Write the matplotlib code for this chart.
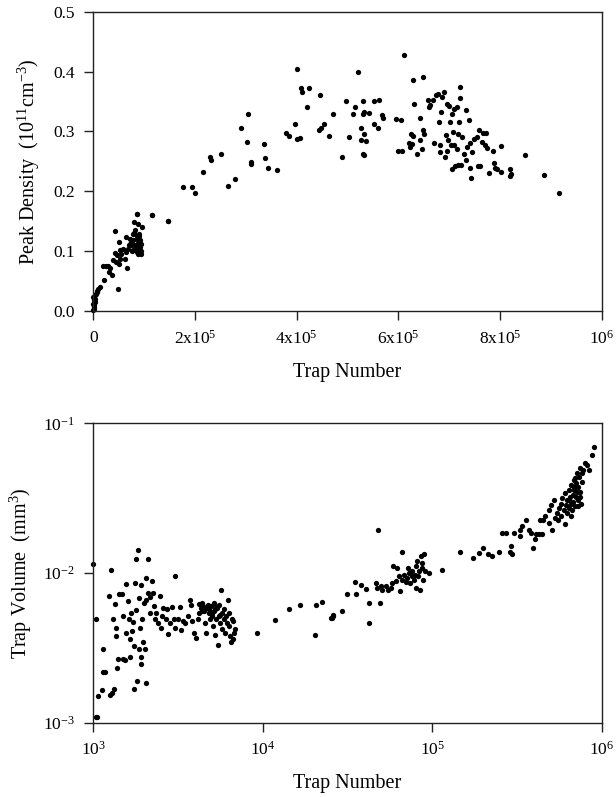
import matplotlib
matplotlib.use("Agg")
import matplotlib.pyplot as plt
import numpy as np

plt.rcParams['font.family'] = ['Liberation Serif', 'DejaVu Serif']
plt.rcParams['mathtext.fontset'] = 'custom'
plt.rcParams['mathtext.rm'] = 'Liberation Serif'
plt.rcParams['mathtext.it'] = 'Liberation Serif:italic'
plt.rcParams['mathtext.default'] = 'regular'

# ---------------- Top panel data: Peak density vs trap number ----------------
top_x = [
    1.47e5, 1.16e5, 0.86e5, 1.77e5, 1.95e5, 2.01e5, 2.15e5, 2.30e5, 2.31e5, 2.51e5,
    2.64e5, 2.78e5, 2.90e5, 3.02e5, 3.05e5, 3.11e5, 3.11e5, 3.36e5, 3.38e5, 3.44e5,
    3.62e5, 3.79e5, 3.85e5, 3.97e5, 4.01e5, 4.01e5, 4.07e5, 4.09e5, 4.11e5, 4.20e5,
    4.25e5, 4.46e5, 4.43e5, 4.47e5, 4.53e5, 4.63e5, 4.72e5, 4.89e5, 4.97e5, 5.03e5,
    5.10e5, 5.14e5, 5.21e5, 5.27e5, 5.30e5, 5.30e5, 5.27e5, 5.33e5, 5.33e5, 5.30e5,
    5.32e5, 5.36e5, 5.42e5, 5.52e5, 5.53e5, 5.61e5, 5.60e5, 5.67e5, 5.70e5, 5.96e5,
    6.05e5, 5.99e5, 6.08e5, 6.12e5, 6.20e5, 6.22e5, 6.25e5, 6.26e5, 6.28e5, 6.29e5,
    6.31e5, 6.36e5, 6.42e5, 6.43e5, 6.46e5, 6.48e5, 6.49e5, 6.51e5, 6.58e5, 6.60e5,
    6.62e5, 6.68e5, 6.71e5, 6.74e5, 6.78e5, 6.80e5, 6.81e5, 6.82e5, 6.83e5, 6.86e5,
    6.89e5, 6.91e5, 6.94e5, 6.95e5, 6.96e5, 6.98e5, 6.99e5, 7.02e5, 7.03e5, 7.05e5,
    7.05e5, 7.07e5, 7.09e5, 7.10e5, 7.12e5, 7.15e5, 7.16e5, 7.18e5, 7.19e5, 7.21e5,
    7.22e5, 7.18e5, 7.24e5, 7.26e5, 7.29e5, 7.33e5, 7.34e5, 7.36e5, 7.39e5, 7.40e5,
    7.41e5, 7.42e5, 7.44e5, 7.49e5, 7.54e5, 7.56e5, 7.59e5, 7.60e5, 7.64e5, 7.66e5,
    7.70e5, 7.73e5, 7.75e5, 7.78e5, 7.87e5, 7.89e5, 7.91e5, 7.95e5, 8.01e5, 8.01e5,
    8.20e5, 8.22e5, 8.20e5, 8.49e5, 8.87e5, 9.16e5,
    # dense cluster near the origin
    0.86e5, 1.15e5, 1.46e5, 0.42e5, 0.81e5, 0.88e5, 0.96e5, 0.51e5, 0.65e5, 0.72e5,
    0.78e5, 0.85e5, 0.90e5, 0.75e5, 0.81e5, 0.86e5, 0.91e5, 0.88e5, 0.68e5, 0.59e5,
    0.52e5, 0.42e5, 0.47e5, 0.52e5, 0.62e5, 0.44e5, 0.20e5, 0.25e5, 0.29e5, 0.33e5,
    0.36e5, 0.31e5, 0.67e5, 0.51e5, 0.49e5, 0.21e5, 0.13e5, 0.10e5, 0.065e5, 0.03e5,
    0.0, 0.013e5, 0.0, 0.013e5, 0.0, 0.03e5,
    0.78e5, 0.83e5, 0.86e5, 0.92e5, 0.93e5, 0.90e5, 0.72e5, 0.79e5, 0.94e5, 0.65e5,
    0.55e5, 0.39e5, 0.85e5, 0.93e5, 0.80e5, 0.84e5, 0.87e5, 0.89e5, 0.76e5, 0.70e5,
    0.02e5, 0.04e5, 0.05e5, 0.08e5, 0.01e5,
]
top_y = [
    0.151, 0.160, 0.162, 0.207, 0.207, 0.197, 0.233, 0.258, 0.252, 0.262,
    0.209, 0.220, 0.306, 0.283, 0.329, 0.249, 0.245, 0.279, 0.255, 0.239,
    0.235, 0.297, 0.293, 0.313, 0.404, 0.287, 0.289, 0.373, 0.366, 0.341,
    0.373, 0.361, 0.302, 0.306, 0.313, 0.292, 0.329, 0.257, 0.351, 0.291,
    0.329, 0.341, 0.399, 0.306, 0.351, 0.329, 0.285, 0.332, 0.296, 0.263,
    0.260, 0.284, 0.331, 0.313, 0.351, 0.352, 0.306, 0.327, 0.322, 0.321,
    0.319, 0.268, 0.268, 0.428, 0.281, 0.274, 0.295, 0.279, 0.292, 0.386,
    0.346, 0.263, 0.323, 0.285, 0.270, 0.391, 0.303, 0.296, 0.353, 0.341,
    0.344, 0.353, 0.280, 0.361, 0.363, 0.315, 0.278, 0.265, 0.333, 0.358,
    0.366, 0.257, 0.294, 0.268, 0.346, 0.285, 0.342, 0.315, 0.278, 0.329,
    0.238, 0.299, 0.337, 0.277, 0.242, 0.270, 0.340, 0.295, 0.316, 0.375,
    0.356, 0.244, 0.244, 0.290, 0.263, 0.252, 0.335, 0.274, 0.319, 0.280,
    0.239, 0.223, 0.265, 0.287, 0.290, 0.243, 0.303, 0.242, 0.282, 0.297,
    0.278, 0.297, 0.273, 0.231, 0.267, 0.247, 0.239, 0.237, 0.275, 0.232,
    0.225, 0.229, 0.238, 0.261, 0.228, 0.197,
    0.162, 0.160, 0.151, 0.134, 0.149, 0.146, 0.140, 0.115, 0.124, 0.121,
    0.118, 0.126, 0.129, 0.110, 0.110, 0.104, 0.107, 0.096, 0.104, 0.104,
    0.102, 0.097, 0.093, 0.087, 0.087, 0.082, 0.076, 0.076, 0.075, 0.071,
    0.060, 0.065, 0.072, 0.079, 0.037, 0.051, 0.040, 0.036, 0.032, 0.026,
    0.023, 0.018, 0.012, 0.007, 0.001, 0.015,
    0.129, 0.135, 0.121, 0.118, 0.112, 0.115, 0.112, 0.102, 0.101, 0.098,
    0.095, 0.085, 0.098, 0.096, 0.130, 0.108, 0.113, 0.125, 0.100, 0.110,
    0.010, 0.020, 0.028, 0.034, 0.004,
]

top_xticks = [0, 2e5, 4e5, 6e5, 8e5, 1e6]
top_xticklabels = ['0', '2x10$^5$', '4x10$^5$', '6x10$^5$', '8x10$^5$', '10$^6$']
top_yticks = [0.0, 0.1, 0.2, 0.3, 0.4, 0.5]
top_yticklabels = ['0.0', '0.1', '0.2', '0.3', '0.4', '0.5']

# ---------------- Bottom panel data: Trap volume vs trap number ----------------
bot_x = [
    1000, 1037, 1037, 1055, 1070, 1119, 1145, 1135, 1171, 1241,
    1270, 1253, 1281, 1328, 1311, 1340, 1359, 1353, 1383, 1402,
    1421, 1467, 1487, 1487, 1556, 1569, 1535, 1605, 1627, 1642,
    1656, 1678, 1717, 1701, 1733, 1757, 1740, 1780, 1796, 1812,
    1837, 1862, 1862, 1879, 1905, 1922, 1922, 1948, 1965, 1992,
    2010, 2037, 2055, 2055, 2102, 2102, 2151, 2171, 2229, 2250,
    2270, 2300, 2355, 2408, 2461, 2494, 2551, 2573, 2671, 2719,
    2754, 2817, 2923, 2980, 3017, 3054, 3151, 3226, 3299, 3373,
    3499, 3614, 3697, 3787, 3837, 3904, 4045, 4140, 4225, 4315,
    4378, 4450, 4510, 4580, 4617, 4727, 4795, 4830, 4895, 4945,
    5014, 5060, 5130, 5180, 5248, 5296, 5364, 5445, 5491, 5530,
    5626, 5669, 5741, 5782, 5866, 5910, 5974, 6050, 6128, 6228,
    6280, 6340, 6380, 6470, 6570, 6630, 6690, 6780, 6870,
    4400, 4700, 5000, 5300, 5600, 4200, 4900, 5200,
    9230, 1.18e4, 1.42e4, 1.65e4, 2.02e4, 2.07e4, 2.24e4, 2.54e4, 2.59e4,
    2.56e4, 2.58e4, 2.95e4, 3.16e4, 3.54e4, 3.51e4, 3.79e4, 4.09e4, 4.21e4, 4.21e4,
    4.65e4, 4.70e4, 4.79e4, 4.92e4, 4.96e4, 5.07e4, 5.31e4, 5.51e4, 5.69e4, 5.82e4,
    5.90e4, 6.08e4, 6.22e4, 6.37e4, 6.45e4, 6.60e4, 6.66e4, 6.81e4, 6.97e4, 7.13e4,
    7.22e4, 7.29e4, 7.38e4, 7.55e4, 7.63e4, 7.80e4, 7.91e4, 7.98e4, 8.06e4, 8.16e4,
    8.27e4, 8.35e4, 8.42e4, 8.54e4, 8.65e4, 8.73e4, 8.81e4, 8.93e4, 9.05e4, 9.56e4,
    1.14e5, 1.45e5, 1.74e5, 1.90e5, 1.99e5, 2.13e5, 2.25e5, 2.47e5, 2.58e5, 2.74e5,
    2.86e5, 2.95e5, 2.93e5, 3.02e5, 3.28e5, 3.31e5, 3.38e5, 3.57e5, 3.70e5, 3.84e5,
    3.91e5, 4.02e5, 4.09e5, 4.24e5, 4.43e5, 4.33e5, 4.53e5, 4.64e5, 4.86e5, 4.90e5,
    5.04e5, 5.12e5, 5.25e5, 5.31e5, 5.43e5, 5.55e5, 5.62e5, 5.75e5, 5.79e5, 5.87e5,
    5.99e5, 6.08e5, 6.08e5, 6.13e5, 6.20e5, 6.28e5, 6.37e5, 6.43e5, 6.49e5, 6.55e5,
    6.60e5, 6.67e5, 6.73e5, 6.79e5, 6.84e5, 6.91e5, 6.97e5, 7.03e5, 7.09e5, 7.16e5,
    7.22e5, 7.29e5, 7.36e5, 7.42e5, 7.49e5, 7.56e5, 7.63e5, 7.80e5, 7.98e5, 8.17e5,
    8.41e5, 8.73e5, 9.05e5,
    6.37e5, 6.82e5, 7.13e5, 7.45e5, 6.97e5, 7.63e5, 7.29e5, 6.60e5,
]
bot_y = [
    1.15e-2, 4.89e-3, 1.08e-3, 1.09e-3, 1.51e-3, 1.65e-3, 3.08e-3, 2.19e-3, 2.19e-3, 6.99e-3,
    1.04e-2, 1.52e-3, 1.57e-3, 1.68e-3, 4.89e-3, 6.21e-3, 4.30e-3, 3.78e-3, 2.33e-3, 2.64e-3,
    7.28e-3, 7.28e-3, 5.14e-3, 2.66e-3, 8.40e-3, 3.98e-3, 2.61e-3, 6.47e-3, 4.89e-3, 3.59e-3,
    2.75e-3, 5.41e-3, 4.69e-3, 4.09e-3, 1.68e-3, 8.58e-3, 3.25e-3, 5.64e-3, 1.23e-2, 1.90e-3,
    1.42e-2, 6.82e-3, 3.08e-3, 4.30e-3, 8.36e-3, 2.75e-3, 2.45e-3, 4.89e-3, 3.44e-3, 6.31e-3,
    3.08e-3, 9.26e-3, 1.83e-3, 6.63e-3, 1.23e-2, 7.36e-3, 5.41e-3, 6.92e-3, 8.80e-3, 7.36e-3,
    6.00e-3, 4.89e-3, 5.41e-3, 4.64e-3, 6.99e-3, 4.30e-3, 5.14e-3, 5.85e-3, 4.89e-3, 5.71e-3,
    3.88e-3, 4.59e-3, 5.94e-3, 4.94e-3, 9.50e-3, 4.30e-3, 4.89e-3, 5.91e-3, 4.15e-3, 4.76e-3,
    4.64e-3, 5.14e-3, 6.63e-3, 6.14e-3, 4.76e-3, 3.98e-3, 3.69e-3, 4.89e-3, 5.41e-3, 5.85e-3,
    6.31e-3, 6.00e-3, 5.56e-3, 4.64e-3, 3.98e-3, 6.14e-3, 5.41e-3, 5.71e-3, 4.89e-3, 6.00e-3,
    5.14e-3, 4.41e-3, 6.31e-3, 5.56e-3, 3.82e-3, 4.89e-3, 5.85e-3, 3.29e-3, 5.14e-3, 6.14e-3,
    4.64e-3, 7.74e-3, 5.41e-3, 4.19e-3, 4.89e-3, 5.71e-3, 3.98e-3, 5.14e-3, 4.64e-3, 6.54e-3,
    5.41e-3, 4.41e-3, 3.78e-3, 3.44e-3, 4.89e-3, 3.60e-3, 4.76e-3, 3.98e-3, 4.19e-3,
    5.60e-3, 5.80e-3, 5.30e-3, 5.90e-3, 5.20e-3, 6.20e-3, 5.50e-3, 5.70e-3,
    3.98e-3, 4.81e-3, 5.75e-3, 6.14e-3, 3.85e-3, 6.07e-3, 6.37e-3, 5.03e-3, 5.20e-3,
    4.97e-3, 5.14e-3, 5.55e-3, 7.28e-3, 7.28e-3, 8.71e-3, 8.32e-3, 7.83e-3, 6.31e-3, 4.64e-3,
    8.58e-3, 7.94e-3, 1.95e-2, 6.31e-3, 8.15e-3, 7.74e-3, 8.15e-3, 7.66e-3, 7.94e-3, 8.58e-3,
    1.11e-2, 8.80e-3, 1.08e-2, 9.50e-3, 7.54e-3, 1.37e-2, 9.03e-3, 9.75e-3, 8.67e-3, 9.26e-3,
    1.08e-2, 1.00e-2, 8.58e-3, 9.50e-3, 1.03e-2, 9.03e-3, 9.75e-3, 7.94e-3, 1.11e-2, 1.20e-2,
    9.50e-3, 1.03e-2, 7.74e-3, 1.29e-2, 1.17e-2, 1.08e-2, 9.03e-3, 1.33e-2, 1.03e-2, 1.00e-2,
    1.05e-2, 1.39e-2, 1.26e-2, 1.36e-2, 1.47e-2, 1.33e-2, 1.30e-2, 1.39e-2, 1.85e-2, 1.85e-2,
    1.39e-2, 1.34e-2, 1.52e-2, 1.85e-2, 1.76e-2, 1.95e-2, 2.07e-2, 2.27e-2, 1.95e-2, 1.85e-2,
    1.47e-2, 1.69e-2, 1.81e-2, 1.82e-2, 1.82e-2, 2.25e-2, 2.27e-2, 2.39e-2, 2.64e-2, 2.15e-2,
    2.84e-2, 1.95e-2, 3.08e-2, 2.33e-2, 2.51e-2, 2.27e-2, 2.71e-2, 2.39e-2, 2.91e-2, 3.16e-2,
    2.64e-2, 2.12e-2, 3.41e-2, 2.84e-2, 3.08e-2, 2.51e-2, 3.59e-2, 2.71e-2, 3.24e-2, 2.91e-2,
    3.87e-2, 2.64e-2, 3.33e-2, 2.99e-2, 4.17e-2, 3.59e-2, 2.78e-2, 3.24e-2, 3.97e-2, 4.64e-2,
    3.08e-2, 3.76e-2, 4.40e-2, 3.50e-2, 5.00e-2, 2.91e-2, 4.06e-2, 4.89e-2, 5.41e-2, 5.28e-2,
    4.89e-2, 6.15e-2, 6.92e-2,
    3.08e-2, 3.76e-2, 3.50e-2, 3.24e-2, 4.28e-2, 4.64e-2, 2.78e-2, 2.39e-2,
]

bot_xticks = [1e3, 1e4, 1e5, 1e6]
bot_xticklabels = ['10$^3$', '10$^4$', '10$^5$', '10$^6$']
bot_yticks = [1e-3, 1e-2, 1e-1]
bot_yticklabels = ['10$^{-3}$', '10$^{-2}$', '10$^{-1}$']

W, H = 616, 797
fig = plt.figure(figsize=(W / 100, H / 100), dpi=100)

def frac(l, t, r, b):
    return [l / W, 1 - b / H, (r - l) / W, (b - t) / H]

ax1 = fig.add_axes(frac(93.3, 11.7, 601.7, 311))
ax2 = fig.add_axes(frac(93.3, 423.3, 601.7, 722.5))

mk = dict(linestyle='none', marker='o', markersize=3.8, color='black', markeredgewidth=0)

ax1.plot(top_x, top_y, **mk, clip_on=False)
ax1.set_xlim(0, 1e6)
ax1.set_ylim(0, 0.5)
ax1.set_xticks(top_xticks)
ax1.set_xticklabels(top_xticklabels)
ax1.set_yticks(top_yticks)
ax1.set_yticklabels(top_yticklabels)
ax1.set_xlabel('Trap Number', fontsize=14.5, labelpad=11)
ax1.set_ylabel('Peak Density  (10$^{11}$cm$^{-3}$)', fontsize=14.5, labelpad=8)

ax2.plot(bot_x, bot_y, **mk, clip_on=False)
ax2.set_xscale('log')
ax2.set_yscale('log')
ax2.set_xlim(1e3, 1e6)
ax2.set_ylim(1e-3, 1e-1)
ax2.minorticks_off()
ax2.set_xticks(bot_xticks)
ax2.set_xticklabels(bot_xticklabels)
ax2.set_yticks(bot_yticks)
ax2.set_yticklabels(bot_yticklabels)
ax2.minorticks_off()
ax2.set_xlabel('Trap Number', fontsize=14.5, labelpad=11)
ax2.set_ylabel('Trap Volume  (mm$^3$)', fontsize=14.5, labelpad=6)

for ax in (ax1, ax2):
    for s in ax.spines.values():
        s.set_linewidth(1.0)
        s.set_color('#222222')
    ax.tick_params(direction='out', length=6.5, width=1.0, labelsize=12.5,
                   top=False, right=False, pad=7, color='#222222')

fig.savefig('out.png', dpi=100)
